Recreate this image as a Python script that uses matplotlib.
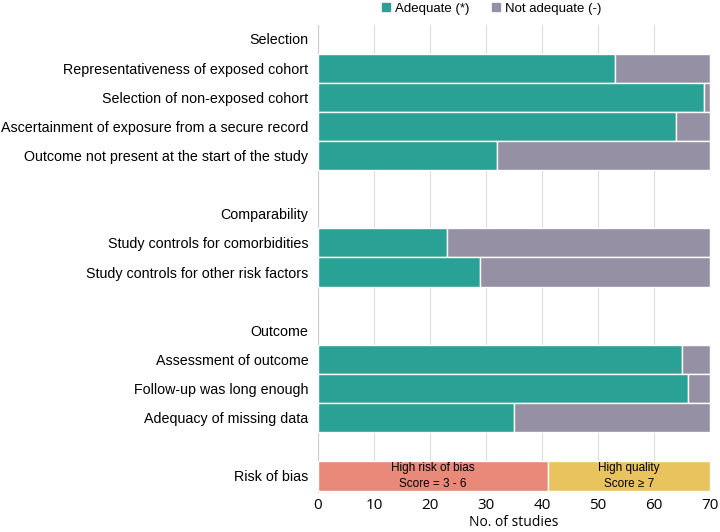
import numpy as np
import matplotlib.pyplot as plt
from matplotlib.lines import Line2D

# Etiquetas de las filas (None = fila vacía)
rows = ['Selection',
        'Representativeness of exposed cohort',
        'Selection of non-exposed cohort',
        'Ascertainment of exposure from a secure record',
        'Outcome not present at the start of the study',
        None,
        'Comparability',
        'Study controls for comorbidities',
        'Study controls for other risk factors',
        None,
        'Outcome',
        'Assessment of outcome',
        'Follow-up was long enough',
        'Adequacy of missing data',
        None,
        'Risk of bias']

items = ['Representativeness of exposed cohort',
         'Selection of non-exposed cohort',
         'Ascertainment of exposure from a secure record',
         'Outcome not present at the start of the study',
         'Study controls for comorbidities',
         'Study controls for other risk factors',
         'Assessment of outcome',
         'Follow-up was long enough',
         'Adequacy of missing data']
adequate = [53, 69, 64, 32, 23, 29, 65, 66, 35]
total = 70
not_adequate = [total - a for a in adequate]

risk_labels = ['High risk of bias\nScore = 3 - 6', 'High quality\nScore \u2265 7']
risk_counts = [41, 29]

GREEN = '#2aa195'
GRAY = '#9590a3'
RISK_COLORS = ['#e8897a', '#e8c35e']

plt.rcParams['font.family'] = ['Liberation Sans', 'DejaVu Sans']

fig = plt.figure(figsize=(7.2, 5.32), dpi=100)
ax = fig.add_axes([318 / 720, 1 - 492 / 532, 392 / 720, (492 - 25) / 532])

ypos = {lab: i for i, lab in enumerate(rows) if lab is not None}

for lab, a, n in zip(items, adequate, not_adequate):
    y = ypos[lab]
    ax.barh(y, a, height=1.0, color=GREEN, edgecolor='white', linewidth=1, zorder=3)
    ax.barh(y, n, left=a, height=1.0, color=GRAY, edgecolor='white', linewidth=1, zorder=3)

y = ypos['Risk of bias']
left = 0
for lab, c, col in zip(risk_labels, risk_counts, RISK_COLORS):
    ax.barh(y, c, left=left, height=1.0, color=col, edgecolor='white', linewidth=1, zorder=3)
    ax.text(left + c / 2, y, lab, ha='center', va='center', fontsize=8.5,
            linespacing=1.45, zorder=4)
    left += c

ax.set_yticks([i for i, lab in enumerate(rows) if lab is not None])
ax.set_yticklabels([lab for lab in rows if lab is not None], fontsize=10.3)
ax.set_ylim(len(rows) - 0.45, -0.48)
ax.set_xlim(0, total)
ax.set_xticks(np.arange(0, 71, 10))
ax.tick_params(axis='both', length=0)
ax.tick_params(axis='y', pad=7)
ax.tick_params(axis='x', labelsize=11, pad=4)
for t in ax.get_xticklabels():
    t.set_family(['Open Sans', 'DejaVu Sans'])
ax.set_xlabel('No. of studies', fontsize=10, family=['Open Sans', 'DejaVu Sans'], labelpad=2)
ax.grid(axis='x', color='#dddddd', linewidth=0.8, zorder=0)
for s in ['top', 'right', 'bottom']:
    ax.spines[s].set_visible(False)
ax.spines['left'].set_color('#cccccc')

handles = [Line2D([], [], marker='s', linestyle='', color=GREEN, markersize=5.5),
           Line2D([], [], marker='s', linestyle='', color=GRAY, markersize=5.5)]
fig.legend(handles, ['Adequate (*)', 'Not adequate (-)'], loc='center',
           bbox_to_anchor=(490 / 720, 1 - 9 / 532), ncol=2, frameon=False,
           fontsize=9.5, handletextpad=0.1, columnspacing=1.4, handlelength=1.2)

plt.savefig('out.png', dpi=100)
